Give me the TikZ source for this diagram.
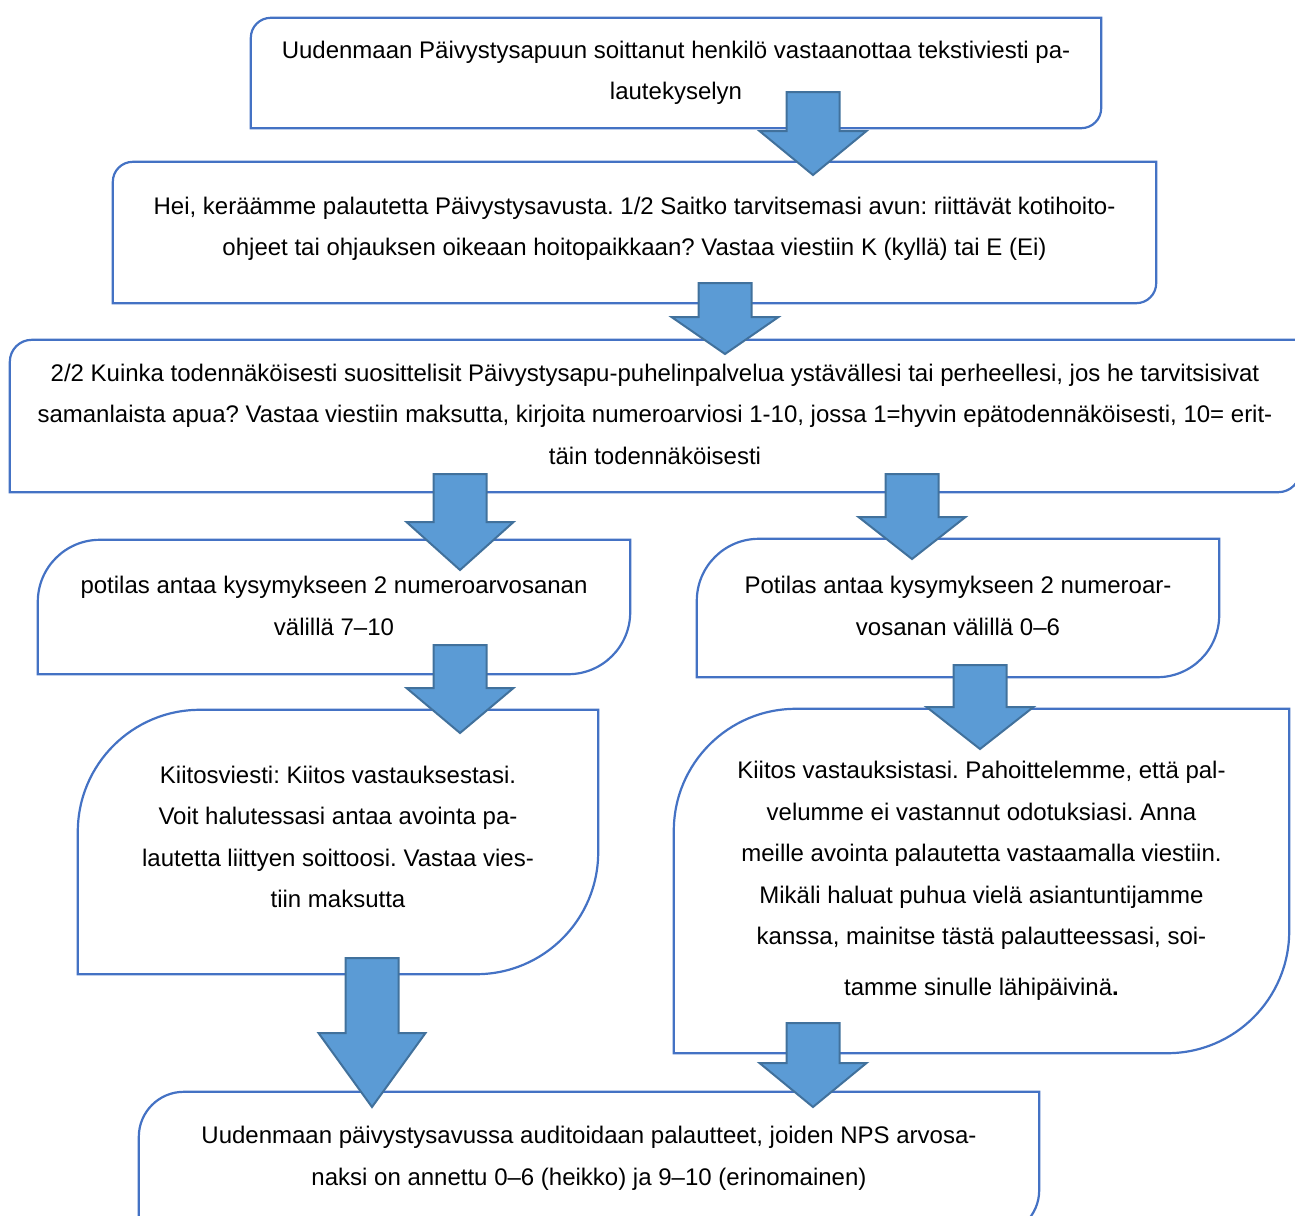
\documentclass[tikz,border=0pt]{standalone}
\usepackage{fontspec}
\setmainfont{Liberation Sans}
\usepackage{tikz}
\usetikzlibrary{calc}
\frenchspacing
\definecolor{boxBlue}{HTML}{4472C4}
\definecolor{arrowFill}{HTML}{5B9BD5}
\definecolor{arrowLine}{HTML}{41719C}
\tikzset{
	msgbox/.style    = {draw=none, align=center, inner sep=0pt,
		font=\fontsize{24}{41.5}\selectfont},
	lift/.style      = {text depth=#1},
	boxline/.style   = {draw=boxBlue, line width=2.2pt},
	bigarrow/.style  = {fill=arrowFill, draw=arrowLine, line width=2pt, line join=miter},
}
% outline with round top-left and bottom-right corners
\newcommand{\roundbox}[2]{%
  \draw[boxline] (#1.south west) -- ([yshift=-#2pt]#1.north west)
    arc[start angle=180, end angle=90, radius=#2pt]
    -- (#1.north east) -- ([yshift=#2pt]#1.south east)
    arc[start angle=0, end angle=-90, radius=#2pt] -- cycle;}
% thick block arrow: start, tip, head length
\newcommand{\blockarrow}[3]{%
  \draw[bigarrow] ($(#1)+(-26.5,0)$) -- ($(#1)+(26.5,0)$) -- ($(#2)+(26.5,#3)$)
    -- ($(#2)+(53.5,#3)$) -- (#2) -- ($(#2)+(-53.5,#3)$) -- ($(#2)+(-26.5,#3)$) -- cycle;}

\begin{document}
\begin{tikzpicture}[x=1pt, y=1pt]

    \useasboundingbox (0,0) rectangle (1295,-1215);
    \clip (0,0) rectangle (1295,-1215);

    %-- Boxes creation --%
    \draw
      % SURVEY START %
      node(intro) at (676,-73) [msgbox, minimum width=850pt, minimum height=110pt]
        {Uudenmaan Päivystysapuun soittanut henkilö vastaanottaa tekstiviesti pa-\\lautekyselyn}
      node(hello) at (634.5,-232.5) [msgbox, lift=12pt, minimum width=1043pt, minimum height=141pt]
        {Hei, keräämme palautetta Päivystysavusta. 1/2 Saitko tarvitsemasi avun: riittävät kotihoito-\\ohjeet tai ohjauksen oikeaan hoitopaikkaan? Vastaa viestiin K (kyllä) tai E (Ei)}
      node(question) at (655,-416) [msgbox, lift=4pt, minimum width=1290pt, minimum height=152pt]
        {2/2 Kuinka todennäköisesti suosittelisit Päivystysapu-puhelinpalvelua ystävällesi tai perheellesi, jos he tarvitsisivat\\samanlaista apua? Vastaa viestiin maksutta, kirjoita numeroarviosi 1-10, jossa 1=hyvin epätodennäköisesti, 10= erit-\\täin todennäköisesti}
    ;
    \draw
      % SCORE BRANCHES %
      node(highScore) at (334,-607) [msgbox, lift=2pt, minimum width=592pt, minimum height=134pt]
        {potilas antaa kysymykseen 2 numeroarvosanan\\välillä 7–10}
      node(lowScore) at (958,-608) [msgbox, lift=4pt, minimum width=522pt, minimum height=138pt]
        {Potilas antaa kysymykseen 2 numeroar-\\vosanan välillä 0–6}
      node(thanksHigh) at (338,-842) [msgbox, lift=10pt, minimum width=520pt, minimum height=264pt]
        {Kiitosviesti: Kiitos vastauksestasi.\\Voit halutessasi antaa avointa pa-\\lautetta liittyen soittoosi. Vastaa vies-\\tiin maksutta}
      node(thanksLow) at (981.5,-881) [msgbox, minimum width=615pt, minimum height=344pt]
        {Kiitos vastauksistasi. Pahoittelemme, että pal-\\velumme ei vastannut odotuksiasi. Anna\\meille avointa palautetta vastaamalla viestiin.\\Mikäli haluat puhua vielä asiantuntijamme\\kanssa, mainitse tästä palautteessasi, soi-\\[9pt]tamme sinulle lähipäivinä\textbf{.}}
    ;
    \draw
      % AUDIT (bottom runs off the page) %
      node(audit) at (589,-1163.5) [msgbox, lift=15pt, minimum width=900pt, minimum height=143pt]
        {Uudenmaan päivystysavussa auditoidaan palautteet, joiden NPS arvosa-\\naksi on annettu 0–6 (heikko) ja 9–10 (erinomainen)}
    ;

    %-- Box outlines --%
    \roundbox{intro}{20}
    \roundbox{hello}{20}
    \roundbox{question}{22}
    \roundbox{highScore}{62}
    \roundbox{lowScore}{62}
    \roundbox{thanksHigh}{122}
    \roundbox{thanksLow}{122}
    \roundbox{audit}{45}

    %-- Arrow ends --%
    \draw
      node[shape=coordinate][](introOut)      at (813,-92){}
      node[shape=coordinate][](helloIn)       at (813,-175){}
      node[shape=coordinate][](helloOut)      at (725,-283){}
      node[shape=coordinate][](questionIn)    at (725,-354){}
      node[shape=coordinate][](questionOutA)  at (460,-474){}
      node[shape=coordinate][](highScoreIn)   at (460,-570){}
      node[shape=coordinate][](questionOutB)  at (912,-474){}
      node[shape=coordinate][](lowScoreIn)    at (912,-559){}
      node[shape=coordinate][](highScoreOut)  at (460,-645){}
      node[shape=coordinate][](thanksHighIn)  at (460,-733){}
      node[shape=coordinate][](lowScoreOut)   at (980,-665){}
      node[shape=coordinate][](thanksLowIn)   at (980,-749){}
      node[shape=coordinate][](thanksHighOut) at (372,-958){}
      node[shape=coordinate][](auditInA)      at (372,-1107){}
      node[shape=coordinate][](thanksLowOut)  at (813,-1023){}
      node[shape=coordinate][](auditInB)      at (813,-1107){}
    ;

    %-- Block arrows --%
    \blockarrow{introOut}{helloIn}{44}
    \blockarrow{helloOut}{questionIn}{37}
    \blockarrow{questionOutA}{highScoreIn}{48}
    \blockarrow{questionOutB}{lowScoreIn}{42}
    \blockarrow{highScoreOut}{thanksHighIn}{45}
    \blockarrow{lowScoreOut}{thanksLowIn}{42}
    \blockarrow{thanksHighOut}{auditInA}{74}
    \blockarrow{thanksLowOut}{auditInB}{44}

\end{tikzpicture}
\end{document}
